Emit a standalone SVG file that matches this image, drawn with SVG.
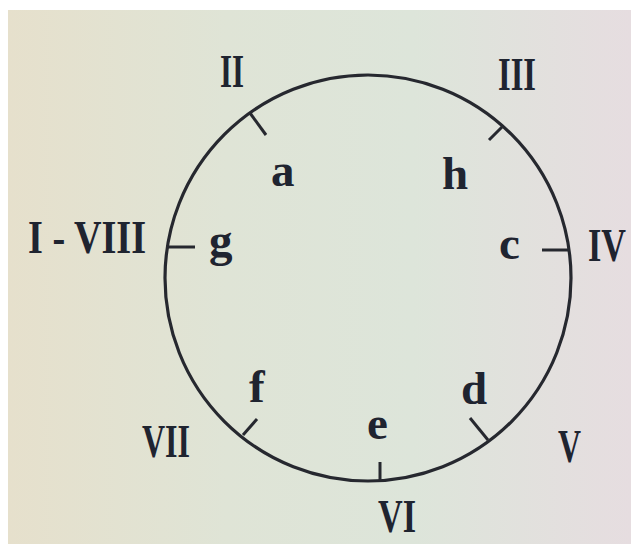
<svg xmlns="http://www.w3.org/2000/svg" width="639" height="551" viewBox="0 0 639 551">
  <defs>
    <linearGradient id="bg" x1="0" y1="0" x2="1" y2="0">
      <stop offset="0" stop-color="#e6e0cc"/>
      <stop offset="0.35" stop-color="#dfe4d6"/>
      <stop offset="0.65" stop-color="#dde5da"/>
      <stop offset="1" stop-color="#e6dde0"/>
    </linearGradient>
  </defs>
  <style>
    .ring { fill: none; stroke: #26282f; stroke-width: 3.2; }
    .tick { stroke: #26282f; stroke-width: 3; stroke-linecap: butt; }
    .cap { font-family: "Liberation Serif", "Times New Roman", serif; font-weight: bold; font-size: 46px; fill: #1f2430; }
    .low { font-family: "Liberation Serif", "Times New Roman", serif; font-weight: bold; font-size: 47px; fill: #1f2430; }
  </style>
  <rect x="0" y="0" width="639" height="551" fill="#ffffff"/>
  <rect x="8" y="10" width="623" height="534" fill="url(#bg)"/>

  <g id="circle">
    <circle class="ring" cx="368" cy="278" r="203"/>
  </g>

  <g id="connectors">
    <line class="tick" x1="250" y1="113" x2="266" y2="135"/>
    <line class="tick" x1="502" y1="127" x2="489" y2="140"/>
    <line class="tick" x1="166" y1="247" x2="195" y2="247"/>
    <line class="tick" x1="569" y1="250" x2="542" y2="250"/>
    <line class="tick" x1="243" y1="435" x2="257" y2="419"/>
    <line class="tick" x1="488" y1="440" x2="470" y2="418"/>
    <line class="tick" x1="380" y1="482" x2="380" y2="462"/>
  </g>

  <g id="label-II"><text class="cap" x="220" y="87" textLength="24" lengthAdjust="spacingAndGlyphs">II</text></g>
  <g id="label-III"><text class="cap" x="498" y="90" textLength="38" lengthAdjust="spacingAndGlyphs">III</text></g>
  <g id="label-I-VIII"><text class="cap" x="28" y="253" textLength="118" lengthAdjust="spacingAndGlyphs">I - VIII</text></g>
  <g id="label-IV"><text class="cap" x="588" y="261" textLength="38" lengthAdjust="spacingAndGlyphs">IV</text></g>
  <g id="label-VII"><text class="cap" x="142" y="457" textLength="48" lengthAdjust="spacingAndGlyphs">VII</text></g>
  <g id="label-V"><text class="cap" x="558" y="462" textLength="23" lengthAdjust="spacingAndGlyphs">V</text></g>
  <g id="label-VI"><text class="cap" x="378" y="532" textLength="38" lengthAdjust="spacingAndGlyphs">VI</text></g>

  <g id="label-a"><text class="low" x="271" y="186">a</text></g>
  <g id="label-h"><text class="low" x="442" y="189">h</text></g>
  <g id="label-g"><text class="low" x="209" y="256">g</text></g>
  <g id="label-c"><text class="low" x="499" y="259">c</text></g>
  <g id="label-f"><text class="low" x="249" y="402">f</text></g>
  <g id="label-d"><text class="low" x="461" y="404">d</text></g>
  <g id="label-e"><text class="low" x="367" y="439">e</text></g>
</svg>
